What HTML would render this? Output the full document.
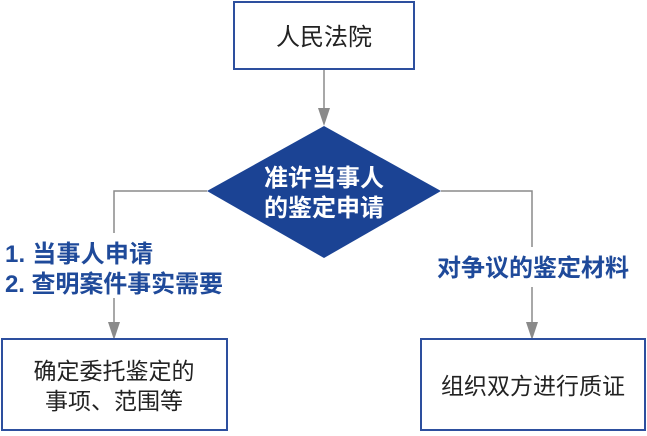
<!DOCTYPE html>
<html><head><meta charset="utf-8"><style>
body{margin:0;background:#fff;}
svg text{font-family:"Liberation Sans","Noto Sans CJK SC",sans-serif;}
</style></head><body>
<svg width="647" height="431" viewBox="0 0 647 431" xmlns="http://www.w3.org/2000/svg">
<g stroke="#8a8a8a" stroke-width="1.5" fill="none">
<line x1="324" y1="69" x2="324" y2="112"/>
<polyline points="207,191 114,191 114,233"/>
<line x1="114" y1="298" x2="114" y2="325"/>
<polyline points="441,191 532,191 532,247"/>
<line x1="532" y1="287" x2="532" y2="325"/>
</g>
<g fill="#8a8a8a">
<polygon points="318,108 330,108 324,126"/>
<polygon points="108,322 120,322 114,340"/>
<polygon points="526,322 538,322 532,340"/>
</g>
<rect x="234" y="2" width="180" height="67" fill="#fff" stroke="#2d4f9e" stroke-width="2"/>
<text x="324" y="45" font-size="24" text-anchor="middle" fill="#222">人民法院</text>
<polygon points="324,126 441,191 324,258 207,191" fill="#1b4394"/>
<text x="324" y="186" font-size="24" font-weight="bold" text-anchor="middle" fill="#fff">准许当事人</text>
<text x="324" y="216" font-size="24" font-weight="bold" text-anchor="middle" fill="#fff">的鉴定申请</text>
<text x="5" y="262" font-size="24" font-weight="bold" fill="#1f4a9a" textLength="148">1. 当事人申请</text>
<text x="5" y="292" font-size="24" font-weight="bold" fill="#1f4a9a" textLength="218">2. 查明案件事实需要</text>
<text x="533" y="276" font-size="24" font-weight="bold" text-anchor="middle" fill="#1f4a9a">对争议的鉴定材料</text>
<rect x="2" y="339" width="225" height="91" fill="#fff" stroke="#2d4f9e" stroke-width="2"/>
<text x="114" y="379" font-size="23" text-anchor="middle" fill="#222">确定委托鉴定的</text>
<text x="114" y="409" font-size="23" text-anchor="middle" fill="#222">事项、范围等</text>
<rect x="421" y="339" width="224" height="91" fill="#fff" stroke="#2d4f9e" stroke-width="2"/>
<text x="533" y="394" font-size="23" text-anchor="middle" fill="#222">组织双方进行质证</text>
</svg>
</body></html>
